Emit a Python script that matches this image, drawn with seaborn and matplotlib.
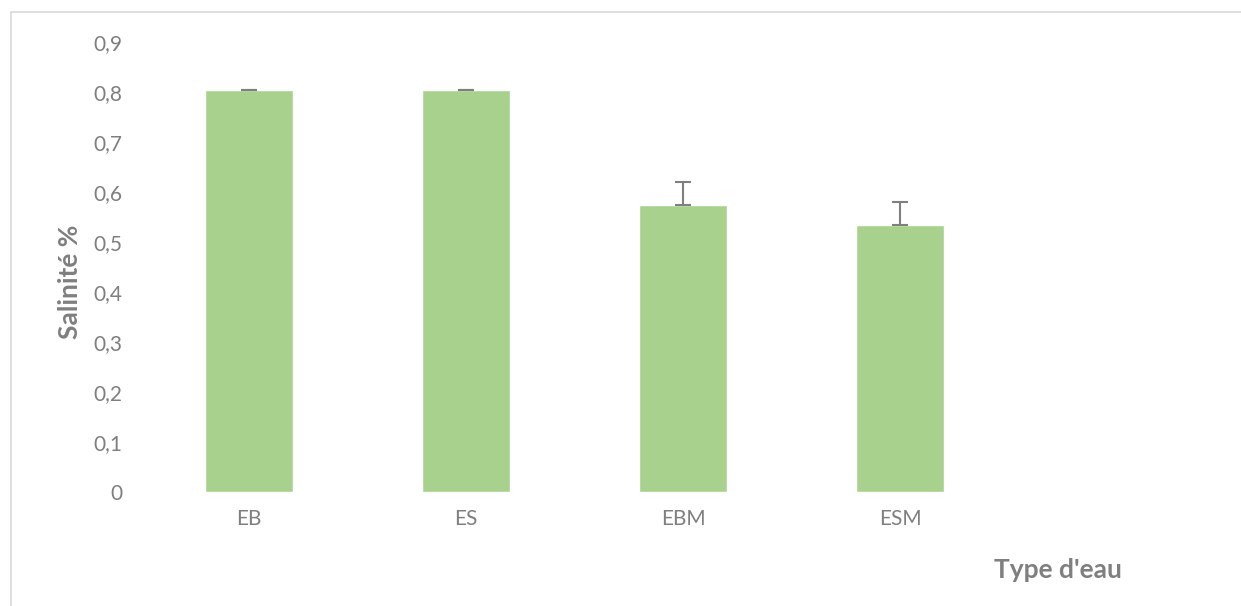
import matplotlib
matplotlib.use("Agg")
import matplotlib.pyplot as plt
import seaborn as sns
import pandas as pd
import numpy as np
from matplotlib.patches import Rectangle

categories = ["EB", "ES", "EBM", "ESM"]
values = [0.805, 0.805, 0.574, 0.534]
errors = [0.0, 0.0, 0.046, 0.046]
yticks = [0.0, 0.1, 0.2, 0.3, 0.4, 0.5, 0.6, 0.7, 0.8, 0.9]
ytick_labels = ["0", "0,1", "0,2", "0,3", "0,4", "0,5", "0,6", "0,7", "0,8", "0,9"]

sns.set_style("white")
plt.rcParams['font.family'] = ['Lato', 'DejaVu Sans']

fig = plt.figure(figsize=(12.41, 6.06), dpi=100)
ax = fig.add_axes([140.5 / 1241, 1 - 492 / 606, 1085 / 1241, 450 / 606])

df = pd.DataFrame({"cat": categories, "val": values})
sns.barplot(data=df, x="cat", y="val", color="#A9D18E", width=0.405,
            errorbar=None, saturation=1, ax=ax)

xs = np.arange(len(categories))
ax.errorbar(xs, values, yerr=[np.zeros(len(errors)), errors], fmt="none",
            ecolor="#7f7f7f", elinewidth=1.5, capsize=6, capthick=1.5)

ax.set_xlim(-0.5, 4.5)
ax.set_ylim(0, 0.9)
ax.set_yticks(yticks)
ax.set_yticklabels(ytick_labels)
for s in ax.spines.values():
    s.set_visible(False)
ax.tick_params(axis="both", length=0, colors="#7f7f7f", labelsize=15)
ax.tick_params(axis="y", pad=13)
ax.tick_params(axis="x", pad=12)
ax.set_xlabel("")
ax.set_ylabel("")

fig.text(70 / 1241, 1 - 282 / 606, "Salinité %", rotation=90, ha="center", va="center",
         fontsize=19, fontweight="bold", color="#7f7f7f")
fig.text(1058 / 1241, 1 - 570 / 606, "Type d'eau", ha="center", va="center",
         fontsize=19, fontweight="bold", color="#7f7f7f")

fig.patches.append(Rectangle((11 / 1241, -0.05), 1.05, 1 - 12 / 606 + 0.05,
                             transform=fig.transFigure, fill=False,
                             edgecolor="#d9d9d9", linewidth=1.2, figure=fig))

fig.savefig("out.png", dpi=100, facecolor="white")
